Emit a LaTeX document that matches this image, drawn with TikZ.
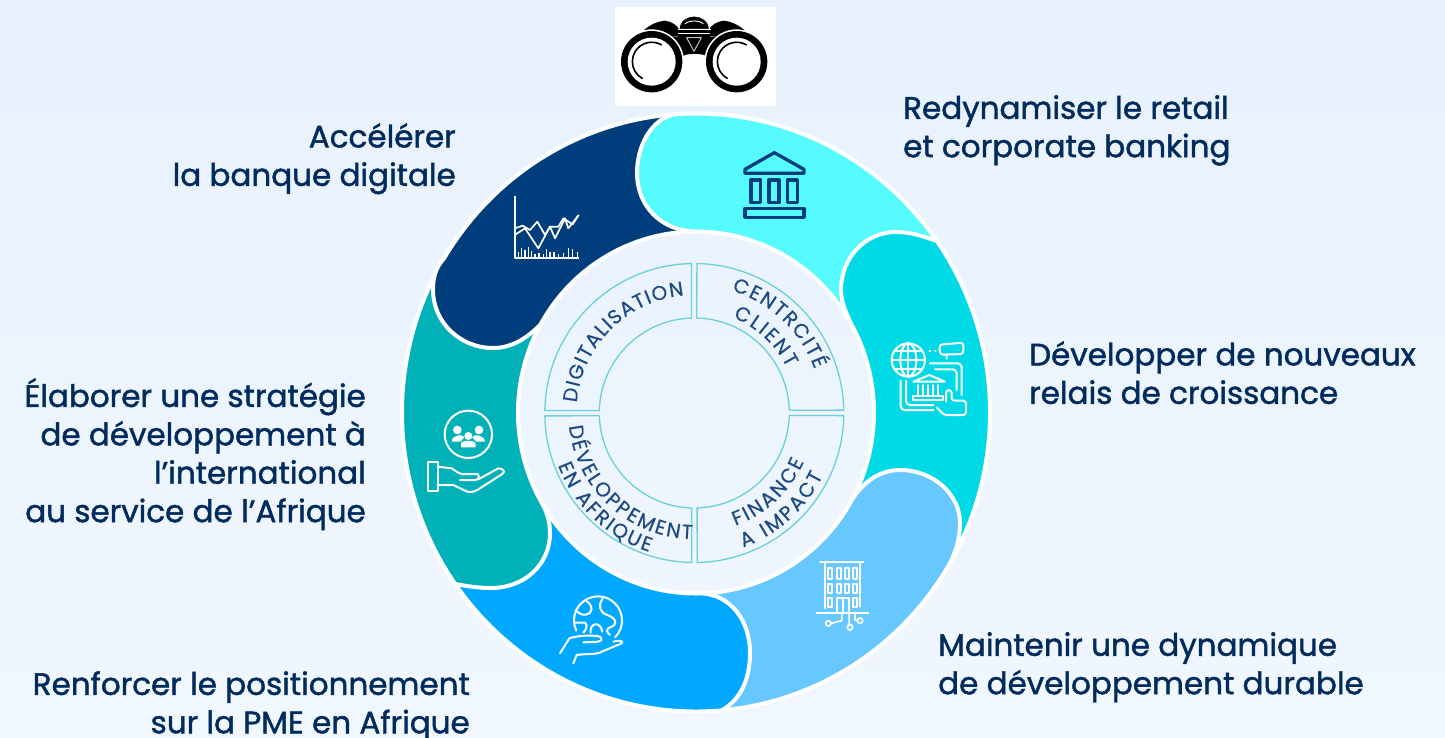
\documentclass[tikz,border=0pt]{standalone}
\usepackage{fontspec}
\setmainfont{Poppins}
\newfontfamily\labelfont[FakeBold=1.4]{Poppins}
\newfontfamily\arcfont[FakeBold=0.5]{Poppins}
\usetikzlibrary{decorations.text}
\definecolor{bgtop}{HTML}{E7F1FD}
\definecolor{bgbot}{HTML}{F1F7FF}
\definecolor{cDark}{HTML}{003D7C}
\definecolor{cCyan}{HTML}{55FBFF}
\definecolor{cTurq}{HTML}{00D9E6}
\definecolor{cLight}{HTML}{66C8FF}
\definecolor{cMid}{HTML}{00A9FF}
\definecolor{cTeal}{HTML}{00B1B8}
\definecolor{cText}{HTML}{002B5C}
\definecolor{cInner}{HTML}{1D4A82}
\definecolor{cQuad}{HTML}{6BD0D8}
\newcommand{\firstline}{\rule{0pt}{22pt}}
\newcommand{\innerfont}{\arcfont\fontsize{20}{20}\selectfont}
\tikzset{
  seg/.style={draw=white,line width=4pt,line join=round},
  ringout/.style={x radius=294pt,y radius=299pt},
  ringin/.style={x radius=178pt,y radius=181pt},
  lbl/.style={font=\labelfont\fontsize{31}{38.4}\selectfont,text=cText,inner sep=0pt},
  quad/.style={draw=cQuad,line width=1.3pt,line join=round},
  wicon/.style={draw=white,line width=2pt,line join=round,line cap=round},
  arctext/.style={decorate,decoration={text along path,text color=cInner,text align=fit to path,text={|\innerfont|#1}}},
}
\begin{document}
\begin{tikzpicture}[x=1pt,y=1pt,yscale=-1]
\useasboundingbox (0,0) rectangle (1445,737);
\shade[top color=bgtop,bottom color=bgbot] (0,0) rectangle (1445,737);
\foreach \a in {331,40,31,100,88,155,150,215,209,275,270,335,290}
  \coordinate (I\a) at ([shift={(696,412.5)}]\a:178pt and 181pt);
\foreach \a in {325,40,30,100,85,155,145,215,211,275,266,335,290}
  \coordinate (O\a) at ([shift={(696,412.5)}]\a:294pt and 299pt);
% cyan full
\draw[seg,fill=cCyan] (I270) .. controls (660,231) and (637,205) .. (637,173) .. controls (637,145) and (652,118) .. (O266) arc[start angle=266,end angle=335,ringout] -- (I335) arc[start angle=335,end angle=270,ringin] -- cycle;
% turquoise
\draw[seg,fill=cTurq] (O325) .. controls (925,237) and (912,232) .. (896,232) .. controls (865,232) and (841,258) .. (841,290) .. controls (841,302) and (846,313) .. (I331) arc[start angle=-29,end angle=40,ringin] -- (O40) arc[start angle=40,end angle=-35,ringout] -- cycle;
% light blue
\draw[seg,fill=cLight] (I31) .. controls (860,484) and (878,470) .. (900,470) .. controls (933,470) and (960,494) .. (960,523) .. controls (960,540) and (955,552) .. (O30) arc[start angle=30,end angle=100,ringout] -- (I100) arc[start angle=100,end angle=31,ringin] -- cycle;
% mid blue
\draw[seg,fill=cMid] (I88) .. controls (730,595) and (750,620) .. (750,653) .. controls (750,680) and (740,700) .. (O85) arc[start angle=85,end angle=155,ringout] -- (I155) arc[start angle=155,end angle=88,ringin] -- cycle;
% teal
\draw[seg,fill=cTeal] (I150) .. controls (547,512) and (550,522) .. (550,533) .. controls (550,565) and (524,588) .. (491,588) .. controls (478,588) and (466,586) .. (O145) arc[start angle=145,end angle=215,ringout] -- (I215) arc[start angle=215,end angle=150,ringin] -- cycle;
% dark
\draw[seg,fill=cDark] (I209) .. controls (527,338) and (512,348) .. (493,348) .. controls (460,348) and (433,322) .. (433,290) .. controls (433,277) and (436,267) .. (O211) arc[start angle=211,end angle=275,ringout] -- (I275) arc[start angle=275,end angle=209,ringin] -- cycle;
% cyan head on top
\fill[cCyan] (I270) .. controls (660,231) and (637,205) .. (637,173) .. controls (637,145) and (652,118) .. (O266) arc[start angle=266,end angle=290,ringout] -- (I290) arc[start angle=290,end angle=270,ringin] -- cycle;
\draw[seg] (I290) arc[start angle=290,end angle=270,ringin] .. controls (660,231) and (637,205) .. (637,173) .. controls (637,145) and (652,118) .. (O266) arc[start angle=266,end angle=290,ringout];

% central ring
\begin{scope}[shift={(694.3,413)},yscale=-1]
  \foreach \r in {0,90,180,270}
    \draw[quad,rotate=\r] (88.5:95pt) -- (89:149.5pt) arc[start angle=89,end angle=1.1,radius=149.5pt] -- (1.7:95pt) arc[start angle=1.7,end angle=88.5,radius=95pt] -- cycle;
  \path[arctext={DIGITALISATION}] (175:118pt) arc[start angle=175,end angle=95,radius=118pt];
  \path[arctext={CENTRCITÉ}] (73:128pt) arc[start angle=73,end angle=20,radius=128pt];
  \path[arctext={CLIENT}] (68:103pt) arc[start angle=68,end angle=26,radius=103pt];
  \path[arctext={DÉVELOPPEMENT}] (186:126pt) arc[start angle=186,end angle=269,radius=126pt];
  \path[arctext={EN AFRIQUE}] (201:146pt) arc[start angle=201,end angle=252,radius=146pt];
  \path[arctext={FINANCE}] (290:120pt) arc[start angle=290,end angle=336,radius=120pt];
  \path[arctext={A IMPACT}] (290:143pt) arc[start angle=290,end angle=334,radius=143pt];
\end{scope}

% labels
\node[lbl,anchor=north east,align=right] (acc) at (456,123) {\firstline Accélérer\\la banque digitale};
\node[lbl,anchor=north west,align=left] (red) at (903,95) {\firstline Redynamiser le retail\\et corporate banking};
\node[lbl,anchor=north west,align=left] (dev) at (1029,341) {\firstline Développer de nouveaux\\relais de croissance};
\node[lbl,anchor=north west,align=left] (mai) at (938,632) {\firstline Maintenir une dynamique\\de développement durable};
\node[lbl,anchor=north east,align=right] (ela) at (366,378) {\firstline Élaborer une stratégie\\de développement à\\l’international\\au service de l’Afrique};
\node[lbl,anchor=north east,align=right] (ren) at (470,671) {\firstline Renforcer le positionnement\\sur la PME en Afrique};

% binoculars
\fill[white] (615,7) rectangle (776,106);
\begin{scope}[shift={(610,0)},scale=1/3]
  \fill[black] (90,102) .. controls (110,80) and (135,65) .. (165,62) .. controls (185,65) and (200,75) .. (208,88) -- (208,108) -- (170,112) -- cycle;
  \fill[black] (415,102) .. controls (395,80) and (370,65) .. (340,62) .. controls (320,65) and (305,75) .. (297,88) -- (297,108) -- (335,112) -- cycle;
  \draw[white,line width=0.8pt,fill=black] (207,88) .. controls (210,35) and (295,35) .. (298,88) -- cycle;
  \draw[white,line width=0.9pt] (225,72) .. controls (235,60) and (270,60) .. (280,72);
  \fill[black] (205,86) rectangle (300,112);
  \draw[white,line width=1pt] (203,88) -- (302,88) (205,100) -- (300,100);
  \fill[black] (165,110) -- (340,110) -- (298,172) .. controls (280,158) and (225,158) .. (212,172) -- cycle;
  \draw[white!75!black,line width=1pt,line join=round] (230,113) -- (274,113) -- (252,154) -- cycle;
  \foreach \c in {125,380} {
    \fill[white] (\c,185) circle[radius=97pt];
    \fill[black] (\c,185) circle[radius=92pt];
    \fill[white] (\c,185) circle[radius=72pt];
    \draw[black,line width=1.6pt] (\c+30,135) arc[start angle=301,end angle=118,radius=58pt];
  }
\end{scope}

% bank icon
\begin{scope}[shift={(730,140)},scale=1/3,line width=3.3pt,draw=cDark,line join=round]
  \draw (133,38) -- (45,88) -- (45,100) -- (222,100) -- (222,88) -- cycle;
  \draw (63,120) rectangle (92,188) (117,120) rectangle (147,188) (172,120) rectangle (202,188);
  \draw (45,205) rectangle (222,232);
\end{scope}

% globe / bank / hand icon
\begin{scope}[shift={(880,330)},scale=1/3,wicon]
  \draw (85,90) circle[radius=50pt];
  \draw (85,90) circle[x radius=24pt,y radius=50pt];
  \draw (85,40) -- (85,140) (35,90) -- (135,90) (45,62) -- (125,62) (45,118) -- (125,118);
  \draw (148,62) -- (150,62) (165,62) -- (167,62);
  \draw[rounded corners=3pt] (178,44) -- (250,38) -- (250,72) -- (180,74) -- cycle (200,74) -- (200,86);
  \draw[rounded corners=4pt] (150,100) -- (245,100) -- (245,195) (165,118) -- (230,118) -- (230,180);
  \draw[rounded corners=4pt] (62,152) -- (62,240) -- (160,240) (78,152) -- (78,225) -- (160,225);
  \draw (100,155) -- (148,135) -- (195,155) -- cycle;
  \draw (115,165) -- (115,195) (130,165) -- (130,195) (145,165) -- (145,195) (160,165) -- (160,195) (175,165) -- (175,195);
  \draw (100,197) -- (190,197) -- (190,210) -- (100,210) -- cycle;
  \draw[rounded corners=3pt] (198,215) -- (198,180) -- (215,180) -- (215,212) -- (258,212) -- (258,255) -- (192,255) -- (170,232);
\end{scope}

% building icon
\begin{scope}[shift={(800,550)},scale=1/3,wicon,line width=1.7pt]
  \draw (60,35) -- (190,35) (75,35) -- (75,175) (180,35) -- (180,170) (50,188) -- (205,188);
  \foreach \x in {85,110,135,160} {
    \draw (\x,55) rectangle ++(12,33);
    \draw (\x,103) rectangle ++(12,27);
  }
  \draw (85,145) rectangle ++(12,27) (160,145) rectangle ++(12,27);
  \draw (110,188) -- (110,145) -- (147,145) -- (147,188) (128,145) -- (128,188);
  \draw (125,188) -- (125,212) -- (93,220) (148,188) -- (148,224) (165,188) -- (165,210) -- (172,211);
  \draw (85,220) circle[radius=8pt] (150,232) circle[radius=8pt] (180,212) circle[radius=8pt];
\end{scope}

% earth in hand icon
\begin{scope}[shift={(550,590)},scale=1/3,wicon]
  \draw (195,142) arc[start angle=45,end angle=-205,radius=72pt];
  \draw (108,32) .. controls (135,50) and (125,72) .. (108,74) .. controls (95,77) and (85,68) .. (76,60);
  \draw (158,26) .. controls (140,50) and (155,72) .. (172,75) .. controls (200,85) and (205,105) .. (180,112) .. controls (165,118) and (172,128) .. (180,135);
  \draw (72,98) -- (105,98) .. controls (115,105) and (108,120) .. (100,128);
  \draw (122,128) .. controls (118,100) and (150,90) .. (157,125);
  \draw (30,190) -- (58,145) .. controls (90,135) and (130,135) .. (150,140) .. controls (160,147) and (152,155) .. (145,155) -- (100,157);
  \draw (70,220) -- (80,195) .. controls (110,190) and (140,195) .. (155,185) -- (215,160) .. controls (222,152) and (205,150) .. (190,155);
\end{scope}

% people on hand icon
\begin{scope}[shift={(415,400)},scale=1/3,wicon]
  \draw (160,103) circle[radius=71pt];
  \fill[white] (127,90) circle[radius=13pt] (192,90) circle[radius=13pt] (160,108) circle[radius=12pt];
  \fill[white] (110,125) .. controls (110,105) and (145,100) .. (148,112) -- (136,125) -- cycle;
  \fill[white] (210,125) .. controls (210,105) and (175,100) .. (172,112) -- (184,125) -- cycle;
  \fill[white] (138,142) -- (138,130) .. controls (140,120) and (180,120) .. (182,130) -- (182,142) -- cycle;
  \draw (40,187) rectangle (68,272);
  \draw[line join=round] (68,200) -- (110,205) .. controls (125,215) and (130,220) .. (140,222) -- (188,222) .. controls (195,230) and (190,240) .. (180,240) -- (135,240);
  \draw (190,238) -- (250,205) .. controls (265,205) and (272,215) .. (262,222) -- (190,268) .. controls (175,278) and (160,278) .. (150,272) -- (115,255) -- (68,255);
\end{scope}

% chart icon
\begin{scope}[shift={(500,185)},scale=1/3,wicon,line cap=butt]
  \draw (44,32) -- (44,218) -- (236,218);
  \draw[line width=1.4pt] (55,215) -- (55,200) (65,215) -- (65,190) (75,215) -- (75,195) (85,215) -- (85,185) (95,215) -- (95,198) (105,215) -- (105,208) (117,215) -- (117,205) (130,215) -- (130,208) (140,215) -- (140,192) (150,215) -- (150,200) (162,215) -- (162,200) (175,215) -- (175,206) (190,215) -- (190,204) (205,215) -- (205,188) (218,215) -- (218,192) (232,215) -- (232,200);
  \draw[line width=1.7pt] (44,150) -- (75,130) -- (115,190) -- (150,125) -- (165,160) -- (195,100) -- (205,130) -- (236,90);
  \draw[line width=1.7pt] (44,130) -- (68,122) -- (90,135) -- (112,110) -- (135,150) -- (150,125) -- (175,125) -- (190,100) -- (218,118) -- (236,90);
\end{scope}
\end{tikzpicture}
\end{document}
